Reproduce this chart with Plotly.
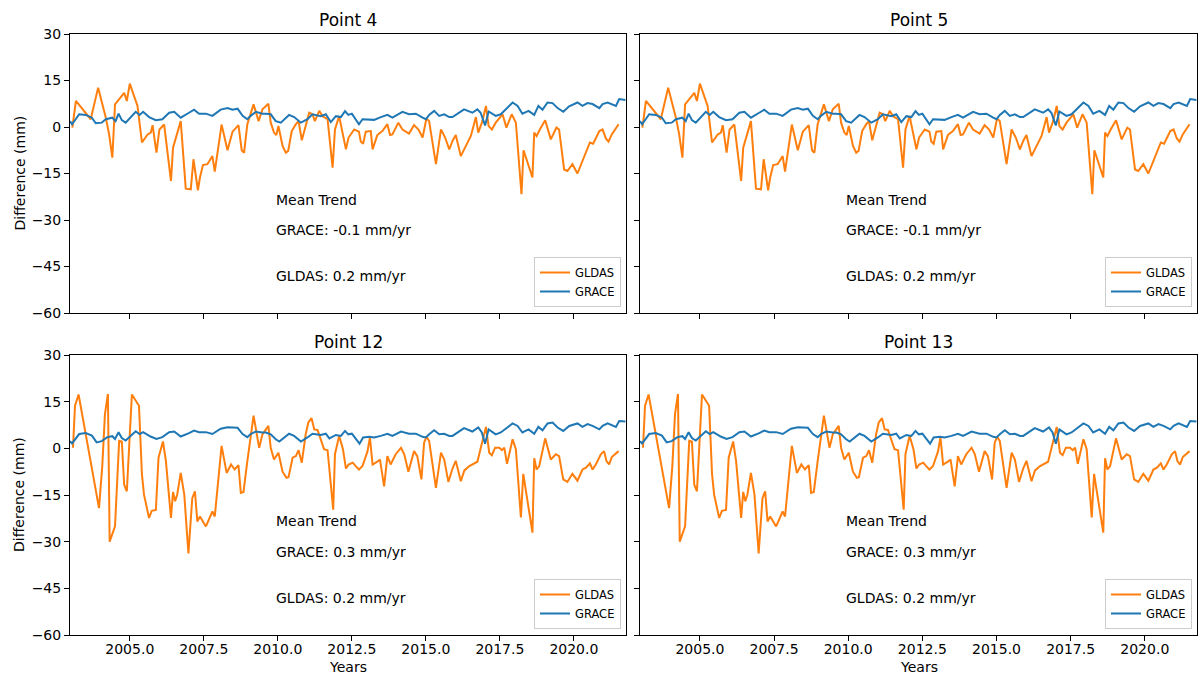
import plotly.graph_objects as go

# ---------------- data ----------------
titles = ["Point 4", "Point 5", "Point 12", "Point 13"]
grace_trend = ["-0.1", "-0.1", "0.3", "0.3"]
gldas_trend = ["0.2", "0.2", "0.2", "0.2"]

# GLDAS difference, points 4 / 5
t_gldas_a = [2003.06, 2003.18, 2003.68, 2003.93, 2004.19, 2004.30, 2004.41, 2004.50, 2004.81, 2004.90,
             2005.00, 2005.26, 2005.41, 2005.60, 2005.71, 2005.77, 2005.90, 2006.00, 2006.16, 2006.39,
             2006.46, 2006.72, 2006.89, 2007.06, 2007.15, 2007.30, 2007.37, 2007.47, 2007.62, 2007.79,
             2007.87, 2008.10, 2008.30, 2008.47, 2008.67, 2008.78, 2008.86, 2008.97, 2009.18, 2009.35,
             2009.48, 2009.68, 2009.76, 2009.87, 2009.95, 2010.02, 2010.16, 2010.27, 2010.35, 2010.47,
             2010.61, 2010.70, 2010.81, 2011.06, 2011.17, 2011.25, 2011.40, 2011.51, 2011.68, 2011.85,
             2011.93, 2012.07, 2012.30, 2012.39, 2012.58, 2012.74, 2012.80, 2012.88, 2012.97, 2013.14,
             2013.20, 2013.36, 2013.53, 2013.70, 2013.79, 2013.87, 2014.07, 2014.21, 2014.43, 2014.60,
             2014.75, 2014.89, 2015.02, 2015.11, 2015.34, 2015.51, 2015.65, 2015.79, 2015.90, 2016.01,
             2016.18, 2016.35, 2016.52, 2016.69, 2016.77, 2016.91, 2017.03, 2017.12, 2017.23, 2017.36,
             2017.59, 2017.72, 2017.90, 2018.04, 2018.23, 2018.30, 2018.60, 2018.66, 2018.74, 2018.85,
             2019.03, 2019.22, 2019.41, 2019.50, 2019.67, 2019.78, 2019.95, 2020.12, 2020.29, 2020.41,
             2020.54, 2020.65, 2020.74, 2020.86, 2020.97, 2021.08, 2021.17, 2021.28, 2021.51]
v_gldas_a = [-0.2, 8.4, 2.5, 12.7, 3.0, -2.3, -9.9, 7.3, 11.0, 8.4,
             14.0, 6.8, -5.0, -2.4, -1.8, 0.6, -8.3, -0.8, 0.8, -17.4,
             -6.7, 1.9, -19.9, -20.1, -10.4, -20.4, -16.3, -12.3, -12.0, -9.4,
             -14.4, 0.8, -7.5, -1.5, 0.6, -7.5, -8.3, 0.9, 7.3, 1.9,
             5.7, 7.5, 1.4, -1.8, -2.6, 0.3, -6.1, -8.3, -7.7, -1.3,
             0.9, 1.9, -4.3, 4.6, 4.1, 1.9, 5.2, 3.5, 2.5, -13.1,
             -0.8, 3.5, -7.2, -3.4, -0.8, -1.5, -4.7, -5.4, -1.5, -1.3,
             -7.2, -2.6, -1.3, 0.9, -2.6, -2.4, 1.4, -0.8, -2.1, 0.6,
             -0.8, -3.4, 2.8, 1.9, -12.0, -0.8, -3.4, -7.2, -4.5, -2.6,
             -9.4, -6.1, -2.9, 3.2, -1.8, 1.9, 6.8, 0.3, -0.8, 1.4,
             4.1, -0.2, 4.1, 1.4, -21.7, -7.5, -16.3, -1.8, -2.9, -0.8,
             2.2, -4.0, -0.2, -0.8, -13.7, -14.2, -12.0, -15.0, -11.0, -8.3,
             -5.0, -5.4, -3.4, -1.3, -0.8, -3.7, -4.7, -2.4, 0.9]

# GLDAS difference, points 12 / 13
t_gldas_b = [2003.08, 2003.15, 2003.27, 2003.96, 2004.07, 2004.16, 2004.26, 2004.32, 2004.50, 2004.64,
             2004.73, 2004.81, 2004.90, 2005.07, 2005.31, 2005.41, 2005.48, 2005.65, 2005.74, 2005.88,
             2005.97, 2006.12, 2006.22, 2006.39, 2006.46, 2006.53, 2006.60, 2006.72, 2006.84, 2006.98,
             2007.11, 2007.20, 2007.28, 2007.37, 2007.57, 2007.79, 2007.87, 2008.10, 2008.27, 2008.42,
             2008.54, 2008.67, 2008.75, 2008.84, 2008.97, 2009.18, 2009.37, 2009.48, 2009.68, 2009.76,
             2009.87, 2010.02, 2010.16, 2010.29, 2010.36, 2010.50, 2010.61, 2010.70, 2010.81, 2010.94,
             2011.03, 2011.14, 2011.23, 2011.34, 2011.45, 2011.56, 2011.68, 2011.76, 2011.87, 2011.93,
             2012.07, 2012.20, 2012.30, 2012.39, 2012.53, 2012.63, 2012.74, 2012.86, 2013.03, 2013.11,
             2013.20, 2013.36, 2013.45, 2013.59, 2013.70, 2013.81, 2013.98, 2014.16, 2014.27, 2014.41,
             2014.60, 2014.71, 2014.85, 2014.94, 2015.02, 2015.11, 2015.34, 2015.51, 2015.62, 2015.76,
             2015.90, 2016.01, 2016.18, 2016.30, 2016.47, 2016.74, 2016.89, 2017.03, 2017.14, 2017.23,
             2017.34, 2017.48, 2017.57, 2017.65, 2017.74, 2017.93, 2018.04, 2018.21, 2018.29, 2018.60,
             2018.66, 2018.74, 2018.83, 2019.03, 2019.22, 2019.39, 2019.50, 2019.64, 2019.78, 2019.95,
             2020.12, 2020.29, 2020.41, 2020.54, 2020.63, 2020.74, 2020.91, 2021.02, 2021.10, 2021.19,
             2021.28, 2021.51]
v_gldas_b = [0.2, 13.7, 17.3, -19.2, -5.7, 11.0, 17.5, -30.0, -25.1, 2.4,
             2.2, -11.7, -13.8, 17.3, 13.7, -8.4, -14.9, -22.4, -20.1, -19.8,
             -3.0, 2.2, -4.1, -22.4, -14.0, -17.0, -14.9, -7.9, -14.9, -33.8,
             -16.0, -13.8, -23.5, -21.9, -25.1, -20.3, -21.9, 0.8, -7.9, -5.2,
             -6.8, -5.4, -14.3, -14.0, -4.1, 10.5, 0.2, 4.5, 7.2, 0.2,
             -3.6, -1.4, -7.5, -9.5, -9.3, -3.0, -2.5, -0.6, -4.6, 4.5,
             8.3, 9.7, 6.1, 5.9, 2.9, -0.3, -0.6, -8.4, -19.7, -1.9,
             4.0, -0.3, -6.5, -5.2, -4.6, -5.7, -6.8, -5.7, -0.9, 3.5,
             -5.2, -4.3, -3.6, -12.2, -2.5, -5.2, -1.9, 0.2, -1.9, -7.5,
             -0.9, -2.5, -10.0, 1.8, 3.7, 2.4, -12.7, -1.4, -3.6, -10.8,
             -6.5, -4.0, -10.6, -7.1, -5.7, -4.3, 1.3, 6.9, -1.4, -2.2,
             0.2, 0.2, -0.6, 0.2, -5.0, 2.9, -0.3, -22.2, -8.2, -27.1,
             -3.2, -6.8, -5.7, 3.2, -3.6, -1.9, -2.5, -10.0, -10.8, -8.2,
             -10.4, -6.8, -6.2, -4.8, -6.8, -5.2, -1.9, -0.9, -4.1, -5.2,
             -2.8, -0.9]

# GRACE difference, points 4 / 5
t_grace_a = [2002.98, 2003.05, 2003.29, 2003.51, 2003.72, 2003.85, 2004.05, 2004.19, 2004.41, 2004.52,
             2004.62, 2004.73, 2004.86, 2005.20, 2005.33, 2005.45, 2005.65, 2005.88, 2006.10, 2006.33,
             2006.50, 2006.72, 2007.00, 2007.17, 2007.34, 2007.57, 2007.79, 2008.07, 2008.30, 2008.47,
             2008.64, 2008.81, 2008.97, 2009.08, 2009.26, 2009.48, 2009.60, 2009.76, 2009.93, 2010.10,
             2010.38, 2010.55, 2010.78, 2011.00, 2011.17, 2011.45, 2011.62, 2011.79, 2011.96, 2012.13,
             2012.27, 2012.38, 2012.50, 2012.74, 2012.86, 2013.09, 2013.25, 2013.48, 2013.70, 2013.87,
             2014.21, 2014.43, 2014.66, 2014.89, 2015.00, 2015.11, 2015.28, 2015.45, 2015.62, 2015.79,
             2015.90, 2016.29, 2016.57, 2016.74, 2016.85, 2017.00, 2017.12, 2017.36, 2017.53, 2017.93,
             2018.10, 2018.26, 2018.47, 2018.66, 2018.80, 2018.94, 2019.11, 2019.28, 2019.45, 2019.64,
             2019.84, 2020.12, 2020.29, 2020.46, 2020.63, 2020.86, 2020.97, 2021.14, 2021.28, 2021.42,
             2021.53, 2021.74]
v_grace_a = [1.9, 0.9, 4.1, 3.9, 3.0, 1.2, 1.4, 2.5, 3.0, 1.9,
             4.3, 2.2, 1.4, 4.9, 3.9, 4.9, 3.2, 2.2, 2.5, 4.6,
             4.9, 3.0, 4.6, 5.6, 4.3, 4.3, 3.6, 5.6, 6.1, 5.6,
             5.9, 3.6, 2.5, 3.6, 4.9, 4.3, 4.3, 4.1, 1.9, 1.4,
             3.9, 3.2, 1.4, 2.5, 4.1, 3.5, 4.1, 1.6, 3.5, 3.2,
             5.1, 3.9, 4.3, 0.9, 2.5, 2.5, 2.3, 3.2, 3.9, 3.0,
             4.9, 4.1, 4.3, 3.0, 2.5, 3.9, 5.2, 3.6, 4.1, 3.2,
             3.2, 5.7, 4.6, 5.7, 4.6, 0.5, 5.0, 3.6, 4.1, 7.9,
             6.8, 4.3, 5.2, 3.9, 6.8, 5.6, 7.9, 7.7, 6.1, 4.9,
             6.7, 7.9, 6.8, 7.7, 7.4, 6.1, 7.4, 7.9, 7.4, 6.8,
             9.0, 8.7]

# GRACE difference, points 12 / 13
t_grace_b = [2002.98, 2003.05, 2003.29, 2003.51, 2003.72, 2003.88, 2004.05, 2004.24, 2004.41, 2004.50,
             2004.62, 2004.73, 2004.86, 2005.20, 2005.33, 2005.45, 2005.70, 2005.90, 2006.10, 2006.33,
             2006.50, 2006.72, 2007.00, 2007.17, 2007.34, 2007.57, 2007.79, 2008.07, 2008.30, 2008.47,
             2008.64, 2008.81, 2008.97, 2009.08, 2009.26, 2009.48, 2009.60, 2009.76, 2009.93, 2010.05,
             2010.38, 2010.55, 2010.78, 2011.00, 2011.17, 2011.45, 2011.62, 2011.74, 2011.96, 2012.13,
             2012.27, 2012.38, 2012.50, 2012.76, 2012.88, 2013.09, 2013.25, 2013.48, 2013.70, 2013.87,
             2014.16, 2014.43, 2014.66, 2014.89, 2015.00, 2015.11, 2015.28, 2015.45, 2015.62, 2015.79,
             2015.90, 2016.29, 2016.57, 2016.77, 2016.89, 2017.00, 2017.12, 2017.36, 2017.53, 2017.93,
             2018.10, 2018.26, 2018.47, 2018.66, 2018.80, 2018.94, 2019.11, 2019.28, 2019.45, 2019.64,
             2019.84, 2020.12, 2020.29, 2020.46, 2020.63, 2020.86, 2020.97, 2021.14, 2021.28, 2021.42,
             2021.53, 2021.74]
v_grace_b = [2.3, 1.6, 4.6, 4.9, 4.1, 1.9, 2.3, 3.6, 3.9, 3.0,
             5.2, 3.3, 2.5, 5.5, 4.6, 5.2, 3.8, 3.0, 3.6, 5.2,
             5.4, 3.8, 4.9, 5.7, 5.2, 5.2, 4.6, 6.3, 6.8, 6.6,
             6.6, 4.6, 3.6, 4.6, 5.4, 5.1, 5.1, 4.5, 2.9, 2.2,
             4.7, 4.0, 2.2, 3.5, 4.7, 4.3, 4.7, 3.2, 4.3, 4.0,
             5.6, 4.5, 4.7, 1.5, 3.5, 3.7, 3.5, 4.0, 4.7, 4.0,
             5.4, 4.7, 4.7, 3.7, 3.5, 4.5, 5.8, 4.5, 4.7, 4.0,
             4.0, 6.5, 5.4, 6.7, 5.1, 1.5, 6.1, 4.5, 5.1, 8.0,
             7.2, 5.1, 6.1, 4.7, 6.9, 5.8, 8.0, 8.3, 6.7, 5.6,
             7.2, 8.0, 6.9, 7.8, 7.2, 6.1, 7.2, 8.0, 7.5, 6.9,
             8.8, 8.6]

assert len(t_gldas_a) == len(v_gldas_a)
assert len(t_gldas_b) == len(v_gldas_b)
assert len(t_grace_a) == len(v_grace_a)
assert len(t_grace_b) == len(v_grace_b)

x_range = [2002.98, 2021.76]
y_range = [-60, 30]

# ---------------- figure ----------------
ORANGE = "#ff7f0e"
BLUE = "#1f77b4"
FONT = "DejaVu Sans"

W, H = 1202, 676
ML, MR, MT, MB = 70, 5, 34, 41
PW, PH = W - ML - MR, H - MT - MB

def px_x(p):
    return (p - ML) / PW

def px_y(p):
    return (H - MB - p) / PH

x_doms = [[px_x(70), px_x(626)], [px_x(640), px_x(1197)]]
y_doms = [[px_y(313), px_y(34)], [px_y(635), px_y(355)]]

panels = [
    (0, 0, t_gldas_a, v_gldas_a, t_grace_a, v_grace_a),
    (0, 1, t_gldas_a, v_gldas_a, t_grace_a, v_grace_a),
    (1, 0, t_gldas_b, v_gldas_b, t_grace_b, v_grace_b),
    (1, 1, t_gldas_b, v_gldas_b, t_grace_b, v_grace_b),
]

fig = go.Figure()
annotations = []
layout = {}

for i, (r, c, tg, vg, tr, vr) in enumerate(panels):
    n = i + 1
    xa = "x" if n == 1 else f"x{n}"
    ya = "y" if n == 1 else f"y{n}"
    lg = "legend" if n == 1 else f"legend{n}"
    fig.add_trace(go.Scatter(x=tg, y=vg, mode="lines", name="GLDAS",
                             line=dict(color=ORANGE, width=2),
                             xaxis=xa, yaxis=ya, legend=lg))
    fig.add_trace(go.Scatter(x=tr, y=vr, mode="lines", name="GRACE",
                             line=dict(color=BLUE, width=2),
                             xaxis=xa, yaxis=ya, legend=lg))

    axis_common = dict(showline=True, mirror=True, linecolor="black", linewidth=1,
                       ticks="outside", ticklen=5, tickwidth=1, tickcolor="black",
                       showgrid=False, zeroline=False,
                       tickfont=dict(family=FONT, size=14, color="black"))
    xkey = "xaxis" if n == 1 else f"xaxis{n}"
    ykey = "yaxis" if n == 1 else f"yaxis{n}"
    layout[xkey] = dict(axis_common, domain=x_doms[c], anchor=ya, range=x_range,
                        tick0=2005, dtick=2.5, tickformat=".1f",
                        ticklabelstandoff=-4,
                        showticklabels=(r == 1))
    layout[ykey] = dict(axis_common, domain=y_doms[r], anchor=xa, range=y_range,
                        tick0=-60, dtick=15, showticklabels=(c == 0))

    # legend in lower right
    layout[lg] = dict(xref="paper", yref="paper",
                      x=px_x(621 if c == 0 else 1192),
                      y=px_y(307 if r == 0 else 629),
                      xanchor="right", yanchor="bottom",
                      bgcolor="rgba(255,255,255,0.85)", bordercolor="#cccccc", borderwidth=1,
                      font=dict(family=FONT, size=11.5, color="black"),
                      itemwidth=30, tracegroupgap=0)

    # title
    xc = (x_doms[c][0] + x_doms[c][1]) / 2
    annotations.append(dict(text=titles[i], xref="paper", yref="paper", x=xc,
                            y=px_y(20 if r == 0 else 342), xanchor="center", yanchor="middle",
                            showarrow=False, font=dict(family=FONT, size=17, color="black")))
    # trend text
    for txt, yv in [("Mean Trend", -23.4),
                    (f"GRACE: {grace_trend[i]} mm/yr", -33.3),
                    (f"GLDAS: {gldas_trend[i]} mm/yr", -48.2)]:
        annotations.append(dict(text=txt, xref=f"{xa} domain", yref=ya, x=0.367, y=yv,
                                xanchor="left", yanchor="middle", showarrow=False,
                                font=dict(family=FONT, size=14, color="black")))

# axis titles
for r in range(2):
    yc = (y_doms[r][0] + y_doms[r][1]) / 2
    annotations.append(dict(text="Difference (mm)", xref="paper", yref="paper",
                            x=px_x(19), y=yc, xanchor="center", yanchor="middle",
                            textangle=-90, showarrow=False,
                            font=dict(family=FONT, size=14, color="black")))
for c in range(2):
    xc = (x_doms[c][0] + x_doms[c][1]) / 2
    annotations.append(dict(text="Years", xref="paper", yref="paper",
                            x=xc, y=px_y(667), xanchor="center", yanchor="middle",
                            showarrow=False, font=dict(family=FONT, size=14, color="black")))

fig.update_layout(**layout)
fig.update_layout(width=W, height=H, margin=dict(l=ML, r=MR, t=MT, b=MB),
                  paper_bgcolor="white", plot_bgcolor="white",
                  font=dict(family=FONT, color="black"),
                  annotations=annotations, showlegend=True)

fig.write_html("out.html")
